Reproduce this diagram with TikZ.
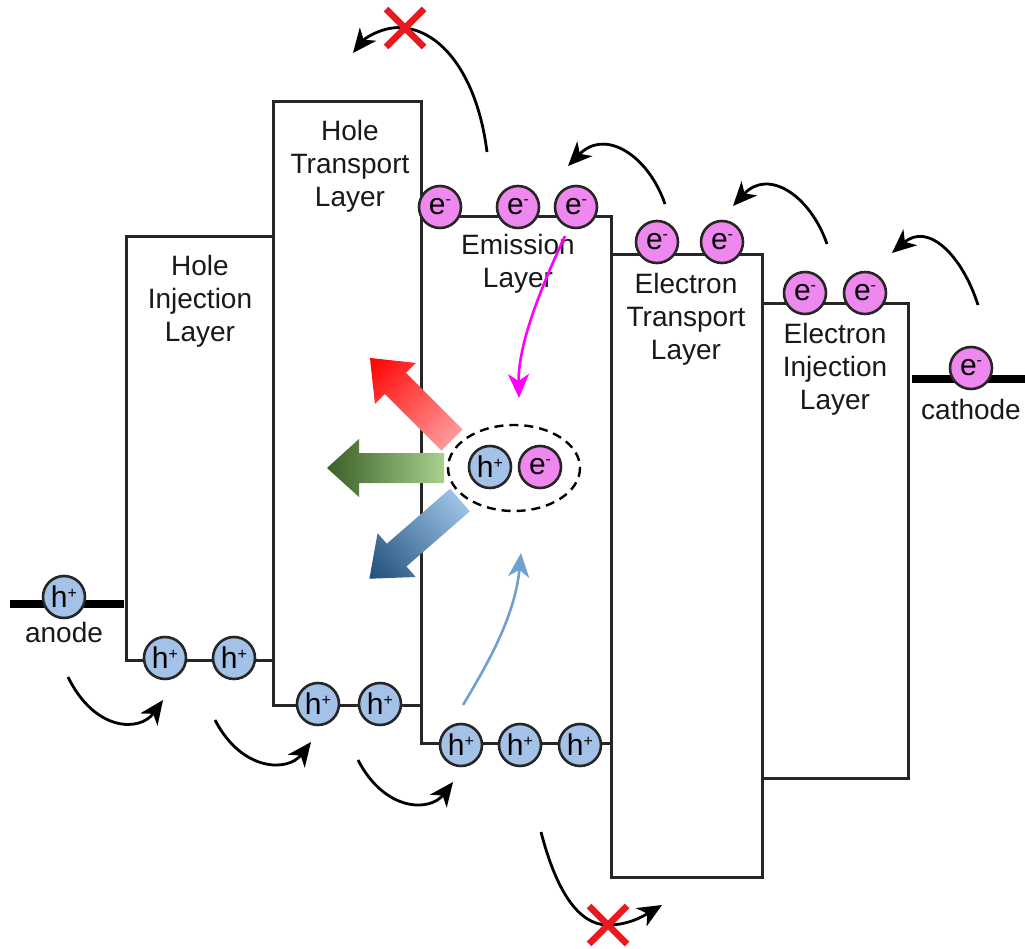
\documentclass[tikz,border=0pt]{standalone}
\usepackage{fontspec}
\setmainfont{Liberation Sans}
\usetikzlibrary{arrows.meta,shadows}
\definecolor{holeblue}{HTML}{A4C2E8}
\definecolor{elecpink}{HTML}{EE88EE}
\definecolor{xred}{HTML}{E8191F}
\definecolor{lineblue}{HTML}{6FA0D0}
\definecolor{brightmagenta}{HTML}{FF00FF}
\definecolor{rdark}{HTML}{FF0000}
\definecolor{rlight}{HTML}{FF9A9A}
\definecolor{gdark}{HTML}{3B5F27}
\definecolor{glight}{HTML}{A9D18E}
\definecolor{bdark}{HTML}{1F4E79}
\definecolor{blight}{HTML}{9DC3E6}
\newcommand\hplus{h\raisebox{9pt}{\fontsize{16}{16}\selectfont +}}
\newcommand\eminus{e\raisebox{10pt}{\fontsize{16}{16}\selectfont -}}
\newcommand\glowarrow[6]{%
  \begin{scope}[transform canvas={shift={(#1)},rotate=#2}]
    \shade[left color=#6, right color=#5]
      (0,-15) -- (#3-#4,-15) -- (#3-#4,-29) -- (#3,0) -- (#3-#4,29) -- (#3-#4,15) -- (0,15) -- cycle;
  \end{scope}}
\newcommand\redcross[1]{%
  \begin{scope}[shift={(#1)}]
    \draw[xred,line width=6.5pt] (-19,-19) -- (19,19) (-19,19) -- (19,-19);
  \end{scope}}
\begin{document}
\begin{tikzpicture}[x=1pt,y=-1pt,
  layerbox/.style={draw=black!85,line width=3pt,fill=white,
    drop shadow={opacity=0.25,shadow xshift=2pt,shadow yshift=-2pt}},
  lbl/.style={align=center,font=\fontsize{28}{33}\selectfont,text=black!90,inner sep=0pt},
  carrier/.style={circle,draw=black!85,line width=2.6pt,minimum size=42pt,inner sep=0pt,
    font=\fontsize{30}{30}\selectfont},
  hole/.style={carrier,fill=holeblue},
  elec/.style={carrier,fill=elecpink},
  tipstyle/.style={-{Stealth[length=24pt,width=21pt,inset=7pt]}},
  jump/.style={line width=2.8pt,tipstyle},
  electrode/.style={line width=8pt,black}]
\useasboundingbox (0,0) rectangle (1025,949);

% layers
\draw[layerbox] (126,237) rectangle (273,660);
\draw[layerbox] (273,102) rectangle (421,705);
\draw[layerbox] (421,217) rectangle (611,743);
\draw[layerbox] (611,255) rectangle (762,877);
\draw[layerbox] (762,304) rectangle (908,778);

\node[lbl] (hil) at (200,301) {Hole\\Injection\\Layer};
\node[lbl] (htl) at (350,166) {Hole\\Transport\\Layer};
\node[lbl] (eml) at (518,264) {Emission\\Layer};
\node[lbl] (etl) at (686,319) {Electron\\Transport\\Layer};
\node[lbl] (eil) at (835,369) {Electron\\Injection\\Layer};

% electrodes
\coordinate (anL) at (10,604);
\coordinate (anR) at (124,604);
\coordinate (caL) at (912,379);
\coordinate (caR) at (1025,379);
\draw[electrode] (anL) -- (anR);
\draw[electrode] (caL) -- (caR);
\node[lbl] (anode) at (64,632) {anode};
\node[lbl] (cathode) at (971,409) {cathode};

% emission arrows
\glowarrow{452,440}{135}{116}{36}{rdark}{rlight}
\glowarrow{444,468}{180}{117}{32}{gdark}{glight}
\glowarrow{460,500}{221}{120}{36}{bdark}{blight}

% exciton
\draw[line width=2.4pt,dash pattern=on 9pt off 6pt] (514,468) ellipse [x radius=66,y radius=43];

% magenta and blue inner arrows
\coordinate (mg1) at (565,236);
\coordinate (mg2) at (519,398);
\draw[line width=2.6pt,brightmagenta,tipstyle] (mg1) .. controls (535,300) and (518,350) .. (mg2);
\coordinate (bl1) at (463,705);
\coordinate (bl2) at (521,553);
\draw[line width=2.6pt,lineblue,tipstyle] (bl1) .. controls (490,660) and (515,615) .. (bl2);

% hole hopping arrows
\coordinate (j1a) at (68,677);   \coordinate (j1b) at (163,700);
\coordinate (j2a) at (215,720);  \coordinate (j2b) at (311,742);
\coordinate (j3a) at (358,760);  \coordinate (j3b) at (453,782);
\draw[jump] (j1a) .. controls (95,732) and (140,732) .. (j1b);
\draw[jump] (j2a) .. controls (242,772) and (288,772) .. (j2b);
\draw[jump] (j3a) .. controls (385,812) and (430,812) .. (j3b);
\coordinate (j4a) at (541,832);  \coordinate (j4m) at (608,925);  \coordinate (j4b) at (662,905);
\draw[jump] (j4a) .. controls (556,890) and (578,925) .. (j4m) .. controls (630,925) and (645,915) .. (j4b);

% electron hopping arrows
\coordinate (k1a) at (978,305);  \coordinate (k1b) at (892,253);
\coordinate (k2a) at (827,244);  \coordinate (k2b) at (733,206);
\coordinate (k3a) at (665,204);  \coordinate (k3b) at (568,166);
\draw[jump] (k1a) .. controls (962,255) and (928,222) .. (k1b);
\draw[jump] (k2a) .. controls (810,195) and (768,168) .. (k2b);
\draw[jump] (k3a) .. controls (648,155) and (605,128) .. (k3b);
\coordinate (k4a) at (487,152);  \coordinate (k4m) at (405,28);  \coordinate (k4b) at (353,53);
\draw[jump] (k4a) .. controls (478,80) and (445,33) .. (k4m) .. controls (385,25) and (365,38) .. (k4b);

\redcross{405,28}
\redcross{608,925}

% holes
\node[hole] (hA) at (64,597) {\hplus};
\node[hole] (h1) at (165,658) {\hplus};
\node[hole] (h2) at (234,658) {\hplus};
\node[hole] (h3) at (318,704) {\hplus};
\node[hole] (h4) at (380,704) {\hplus};
\node[hole] (h5) at (461,745) {\hplus};
\node[hole] (h6) at (520,745) {\hplus};
\node[hole] (h7) at (580,745) {\hplus};
\node[hole] (hX) at (490,467) {\hplus};

% electrons
\node[elec] (eC) at (971,368) {\eminus};
\node[elec] (e1) at (805,293) {\eminus};
\node[elec] (e2) at (865,293) {\eminus};
\node[elec] (e3) at (657,242) {\eminus};
\node[elec] (e4) at (722,242) {\eminus};
\node[elec] (e5) at (440,207) {\eminus};
\node[elec] (e6) at (518,207) {\eminus};
\node[elec] (e7) at (576,207) {\eminus};
\node[elec] (eX) at (540,467) {\eminus};
\end{tikzpicture}
\end{document}
